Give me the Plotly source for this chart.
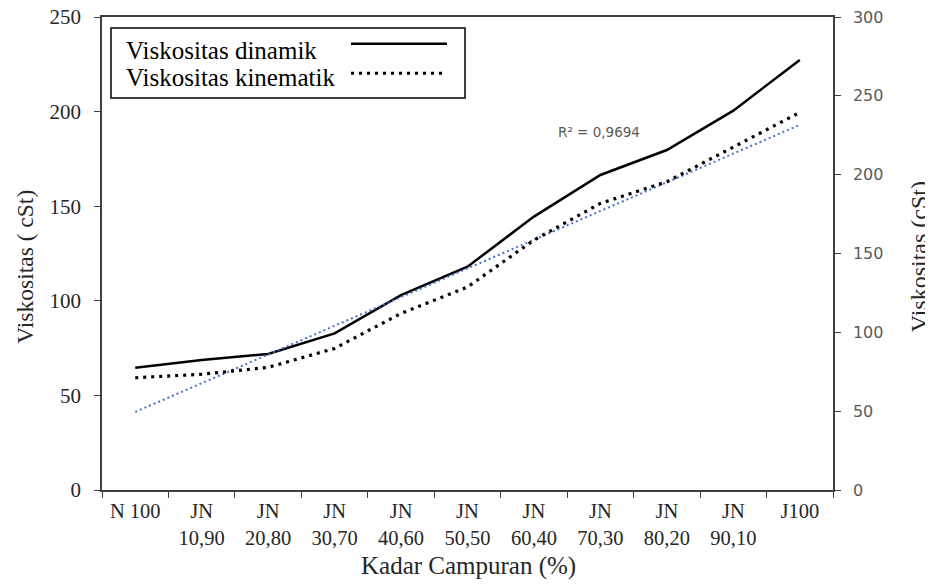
import numpy as np
import plotly.graph_objects as go

categories = ["N 100", "JN<br>10,90", "JN<br>20,80", "JN<br>30,70", "JN<br>40,60",
              "JN<br>50,50", "JN<br>60,40", "JN<br>70,30", "JN<br>80,20", "JN<br>90,10", "J100"]
dinamik = [64.6, 68.7, 71.9, 82.8, 103.0, 118.0, 144.5, 166.5, 179.7, 200.5, 227.3]
kinematik = [71.2, 73.4, 77.8, 89.8, 112.0, 128.7, 158.5, 181.8, 195.5, 217.7, 239.5]
left_ticks = [0, 50, 100, 150, 200, 250]
right_ticks = [0, 50, 100, 150, 200, 250, 300]
r2_label = "R² = 0,9694"
x_title = "Kadar Campuran (%)"
y_title = "Viskositas ( cSt)"
y2_title = "Viskositas (cSt)"

idx = np.arange(len(categories))
slope, intercept = np.polyfit(idx, kinematik, 1)
trend = (slope * idx + intercept).tolist()

SERIF = "Times New Roman, Liberation Serif, DejaVu Serif, serif"
SANS = "DejaVu Sans"
AX = "#404040"
TXT = "#262626"

W, H = 925, 578
OFF = 8
PL, PR, PT, PB = 102, 833, 17, 490.5

fig = go.Figure()
fig.add_trace(go.Scatter(x=categories, y=dinamik, mode="lines", yaxis="y",
                         line=dict(color="black", width=2.5), name="Viskositas dinamik",
                         showlegend=False))
fig.add_trace(go.Scatter(x=categories, y=trend, mode="lines", yaxis="y2",
                         line=dict(color="#4472C4", width=2, dash="2px,3px"),
                         name="Linear", showlegend=False))
fig.add_trace(go.Scatter(x=categories, y=kinematik, mode="lines", yaxis="y2",
                         line=dict(color="black", width=3.2, dash="3px,5px"),
                         name="Viskositas kinematik", showlegend=False))

fig.update_layout(
    width=W, height=H,
    margin=dict(l=PL - OFF, r=W - (PR - OFF), t=PT - OFF, b=H - (PB - OFF), autoexpand=False),
    plot_bgcolor="white", paper_bgcolor="white",
    xaxis=dict(type="category", range=[-0.5, 10.5], tickson="boundaries", automargin=False,
               showline=True, linecolor=AX, linewidth=1.5, mirror=True,
               ticks="outside", ticklen=6, tickcolor=AX, showgrid=False,
               ticklabelstandoff=2,
               tickfont=dict(family=SERIF, size=20.5, color=TXT)),
    yaxis=dict(range=[0, 250], tickvals=left_ticks, showline=True, linecolor=AX,
               automargin=False, ticklabeloverflow="allow", ticklabelstandoff=9,
               linewidth=1.5, ticks="outside", ticklen=6, tickcolor=AX, showgrid=False,
               zeroline=False,
               tickfont=dict(family=SERIF, size=21, color=TXT)),
    yaxis2=dict(range=[0, 300], tickvals=right_ticks, overlaying="y", side="right",
                automargin=False, ticklabeloverflow="allow", ticklabelstandoff=9,
                showline=True, linecolor=AX, linewidth=1.5, ticks="outside", ticklen=6,
                tickcolor=AX, showgrid=False, zeroline=False,
                tickfont=dict(family=SANS, size=16, color="#595959")),
    showlegend=False,
)

def px2x(p):
    return (p - PL) / (PR - PL)

def py2y(p):
    return (PB - p) / (PB - PT)

# axis titles
fig.add_annotation(x=px2x(468), y=py2y(567), xref="paper", yref="paper", text=x_title,
                   showarrow=False, xanchor="center", yanchor="middle",
                   font=dict(family=SERIF, size=25, color=TXT))
fig.add_annotation(x=px2x(25), y=py2y(267), xref="paper", yref="paper", text=y_title,
                   showarrow=False, xanchor="center", yanchor="middle", textangle=-90,
                   font=dict(family=SERIF, size=23.5, color=TXT))
fig.add_annotation(x=px2x(919), y=py2y(257.5), xref="paper", yref="paper", text=y2_title,
                   showarrow=False, xanchor="center", yanchor="middle", textangle=-90,
                   font=dict(family=SERIF, size=24, color=TXT))

# R² label of trendline
fig.add_annotation(x=px2x(598.5), y=py2y(131.7), xref="paper", yref="paper", text=r2_label,
                   showarrow=False, xanchor="center", yanchor="middle",
                   font=dict(family=SANS, size=13.5, color="#595959"))

# Custom legend (text first, sample line after)
fig.add_shape(type="rect", xref="paper", yref="paper",
              x0=px2x(111), x1=px2x(465), y0=py2y(98), y1=py2y(28),
              line=dict(color="black", width=1.5), fillcolor="white", layer="above")
legend_items = [("Viskositas dinamik", 50.5, 43.7, None, 2.5),
                ("Viskositas kinematik", 78, 73.3, "3px,5px", 3.2)]
for text, ty, ly, dash, w in legend_items:
    fig.add_annotation(x=px2x(124), y=py2y(ty), xref="paper", yref="paper", text=text,
                       showarrow=False, xanchor="left", yanchor="middle",
                       font=dict(family=SERIF, size=25, color="black"))
    fig.add_shape(type="line", xref="paper", yref="paper",
                  x0=px2x(351), x1=px2x(447), y0=py2y(ly), y1=py2y(ly),
                  line=dict(color="black", width=w, dash=dash if dash else "solid"))

fig.write_html("out.html")
